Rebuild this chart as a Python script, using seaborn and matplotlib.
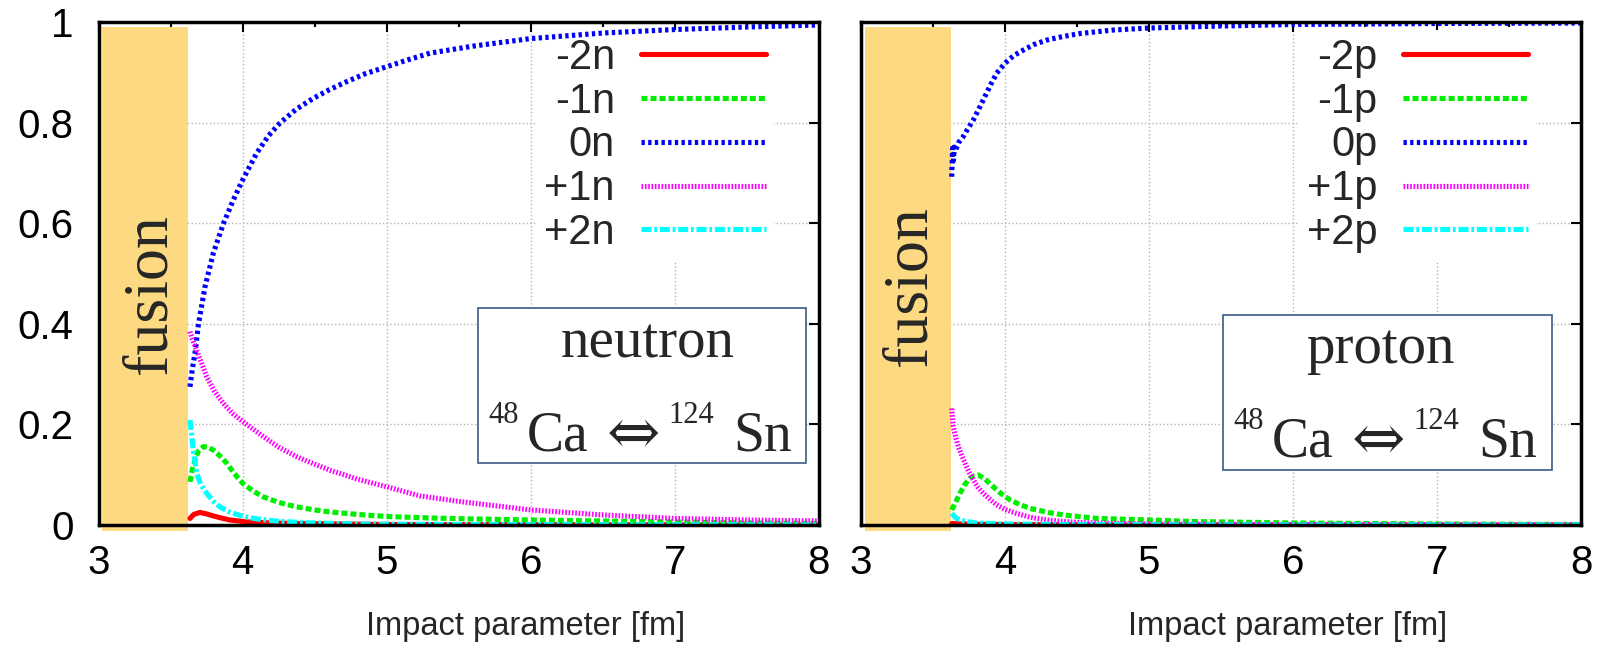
import matplotlib
matplotlib.use("Agg")
import matplotlib.pyplot as plt
from matplotlib.patches import Rectangle
from matplotlib.ticker import MultipleLocator
import seaborn as sns

# ---------------- neutron transfer probabilities (48Ca + 124Sn) ----------------
m2n_b = [3.634, 3.66, 3.703, 3.75, 3.796, 3.85, 3.91, 4.0, 4.05, 4.2, 4.4, 4.7, 5.0, 6.0, 7.0, 8.0]
m2n_v = [0.013, 0.021, 0.025, 0.022, 0.018, 0.014, 0.010, 0.007, 0.006, 0.004, 0.003, 0.002, 0.001, 0.0005, 0.0003, 0.0002]

m1n_b = [3.634, 3.65, 3.669, 3.69, 3.727, 3.76, 3.796, 3.84, 3.889, 3.94, 4.0, 4.07, 4.143, 4.25,
         4.375, 4.5, 4.606, 4.8, 5.0, 5.3, 5.6, 6.0, 6.5, 7.0, 7.5, 8.0]
m1n_v = [0.086, 0.110, 0.129, 0.146, 0.156, 0.155, 0.149, 0.138, 0.123, 0.103, 0.083, 0.068, 0.056, 0.045,
         0.036, 0.030, 0.026, 0.021, 0.017, 0.014, 0.012, 0.010, 0.008, 0.006, 0.004, 0.003]

z0n_b = [3.634, 3.65, 3.669, 3.692, 3.738, 3.796, 3.865, 3.935, 4.0, 4.097, 4.18, 4.259, 4.37, 4.49,
         4.6, 4.72, 4.85, 5.0, 5.15, 5.3, 5.6, 6.0, 6.5, 7.0, 7.5, 8.0]
z0n_v = [0.275, 0.31, 0.342, 0.398, 0.474, 0.541, 0.599, 0.647, 0.687, 0.740, 0.775, 0.800, 0.827, 0.849,
         0.866, 0.882, 0.898, 0.912, 0.926, 0.939, 0.953, 0.968, 0.979, 0.986, 0.991, 0.995]

p1n_b = [3.634, 3.65, 3.68, 3.75, 3.8, 3.865, 3.93, 4.0, 4.143, 4.25, 4.375, 4.5, 4.606, 4.8, 5.0,
         5.23, 5.5, 6.0, 6.5, 7.0, 7.5, 8.0]
p1n_v = [0.385, 0.37, 0.348, 0.295, 0.268, 0.242, 0.222, 0.206, 0.176, 0.155, 0.136, 0.121, 0.109, 0.091, 0.076,
         0.058, 0.047, 0.030, 0.020, 0.013, 0.010, 0.008]

p2n_b = [3.634, 3.645, 3.657, 3.68, 3.71, 3.75, 3.8, 3.842, 3.9, 4.0, 4.1, 4.26, 4.5, 4.8, 5.0, 6.0, 7.0, 8.0]
p2n_v = [0.209, 0.18, 0.149, 0.103, 0.08, 0.063, 0.046, 0.036, 0.027, 0.017, 0.012, 0.007, 0.004, 0.002,
         0.0015, 0.0008, 0.0005, 0.0003]

# ---------------- proton transfer probabilities ----------------
m2p_b = [3.63, 3.7, 3.8, 4.0, 4.5, 5.0, 6.0, 7.0, 8.0]
m2p_v = [0.003, 0.002, 0.0015, 0.001, 0.0005, 0.0003, 0.0002, 0.0001, 0.0001]

m1p_b = [3.63, 3.66, 3.687, 3.72, 3.757, 3.785, 3.815, 3.86, 3.919, 3.97, 4.035, 4.1, 4.174, 4.3,
         4.405, 4.64, 5.0, 5.3, 6.0, 7.0, 8.0]
m1p_v = [0.030, 0.047, 0.063, 0.080, 0.093, 0.098, 0.0995, 0.092, 0.076, 0.063, 0.050, 0.041, 0.033, 0.025,
         0.020, 0.013, 0.010, 0.007, 0.004, 0.002, 0.001]

z0p_b = [3.630, 3.636, 3.642, 3.648, 3.655, 3.68, 3.71, 3.745, 3.78, 3.815, 3.849, 3.9, 3.942, 4.0,
         4.06, 4.127, 4.2, 4.29, 4.4, 4.52, 4.75, 5.0, 5.5, 6.0, 7.0, 8.0]
z0p_v = [0.693, 0.750, 0.725, 0.752, 0.745, 0.762, 0.773, 0.790, 0.806, 0.826, 0.846, 0.876, 0.899, 0.919,
         0.934, 0.945, 0.956, 0.965, 0.972, 0.978, 0.985, 0.989, 0.993, 0.996, 0.998, 0.999]

p1p_b = [3.63, 3.641, 3.66, 3.676, 3.7, 3.722, 3.75, 3.78, 3.81, 3.849, 3.9, 3.942, 4.0, 4.08, 4.18,
         4.29, 4.4, 4.52, 4.75, 5.0, 6.0, 7.0, 8.0]
p1p_v = [0.232, 0.196, 0.172, 0.156, 0.138, 0.123, 0.105, 0.090, 0.076, 0.063, 0.050, 0.040, 0.031, 0.023, 0.015,
         0.010, 0.007, 0.005, 0.003, 0.002, 0.001, 0.0005, 0.0003]

p2p_b = [3.63, 3.65, 3.665, 3.7, 3.73, 3.8, 4.0, 4.5, 5.0, 6.0, 8.0]
p2p_v = [0.023, 0.017, 0.013, 0.009, 0.007, 0.004, 0.002, 0.001, 0.0005, 0.0002, 0.0001]

n_labels = ["-2n", "-1n", "0n", "+1n", "+2n"]
p_labels = ["-2p", "-1p", "0p", "+1p", "+2p"]

x_ticks = [3, 4, 5, 6, 7, 8]
y_ticks = [0, 0.2, 0.4, 0.6, 0.8, 1]
y_tick_labels = ["0", "0.2", "0.4", "0.6", "0.8", "1"]
x_label = "Impact parameter [fm]"
fusion_edge = 3.622

# ---------------- styling ----------------
sns.set_theme(style="white", rc={
    "lines.scale_dashes": False,
    "axes.edgecolor": "black",
    "axes.linewidth": 2.5,
    "xtick.color": "black",
    "ytick.color": "black",
})
plt.rcParams["font.family"] = ["Liberation Sans", "DejaVu Sans"]
SERIF = ["Liberation Serif", "DejaVu Serif"]

LW = 3.7
styles = [
    dict(color="#ff0000", linestyle="-"),
    dict(color="#00ee00", linestyle=(0, (4.3, 2.2))),
    dict(color="#0000ff", linestyle=(0, (2.4, 2.4))),
    dict(color="#ff00ff", linestyle=(0, (1.2, 1.2))),
    dict(color="#00ffff", linestyle=(0, (7.2, 2.0, 2.0, 2.0))),
]

fig = plt.figure(figsize=(16.09, 6.59), dpi=100)
ax_n = fig.add_axes([0.06134, 0.20334, 0.44748, 0.76252])
ax_p = fig.add_axes([0.53511, 0.20334, 0.44748, 0.76252])

panels = [
    (ax_n, [(m2n_b, m2n_v), (m1n_b, m1n_v), (z0n_b, z0n_v), (p1n_b, p1n_v), (p2n_b, p2n_v)], n_labels),
    (ax_p, [(m2p_b, m2p_v), (m1p_b, m1p_v), (z0p_b, z0p_v), (p1p_b, p1p_v), (p2p_b, p2p_v)], p_labels),
]

for ax, series, labels in panels:
    for (b, v), lab, st in zip(series, labels, styles):
        sns.lineplot(x=b, y=v, ax=ax, linewidth=LW, label=lab, estimator=None, **st)

    ax.set_xlim(3, 8)
    ax.set_ylim(0, 1)
    ax.set_xticks(x_ticks)
    ax.set_xticklabels([str(t) for t in x_ticks])
    ax.set_yticks(y_ticks)
    ax.xaxis.set_minor_locator(MultipleLocator(0.5))
    ax.tick_params(which="both", direction="in", top=True, right=True, width=1.5)
    ax.tick_params(which="major", length=7, labelsize=29)
    ax.tick_params(which="minor", length=3.5)
    ax.tick_params(axis="x", pad=14)
    ax.tick_params(axis="y", pad=18)
    ax.grid(True, which="major", color="#b4b4b4", linestyle=":", linewidth=1.0)
    ax.set_axisbelow(True)
    ax.set_xlabel(x_label, fontsize=23.5)
    ax.xaxis.set_label_coords(0.593, -0.172)

    # fusion region
    ax.axvspan(3.025, fusion_edge, ymin=-0.012, ymax=0.991, color="#fdd981",
               zorder=1.2, clip_on=False, lw=0)

    handles = ax.get_lines()[:5]
    leg = ax.legend(handles, labels, loc="upper right", bbox_to_anchor=(0.938, 0.986),
                    markerfirst=False, frameon=True, fancybox=False, edgecolor="none",
                    facecolor="white", framealpha=1, borderpad=0.2, borderaxespad=0,
                    handlelength=3.0, handletextpad=0.62, labelspacing=0.09,
                    fontsize=30)
    leg.set_zorder(1.5)

ax_n.set_yticklabels(y_tick_labels)
ax_p.set_yticklabels([])

# fusion captions
ax_n.text(3.467, 0.46, "fusion", rotation=90, rotation_mode="anchor", ha="center",
          va="baseline", fontsize=46, family=SERIF, zorder=3)
ax_p.text(3.449, 0.475, "fusion", rotation=90, rotation_mode="anchor", ha="center",
          va="baseline", fontsize=46, family=SERIF, zorder=3)

# reaction boxes
def reaction_box(ax, x0, y0, w, h, name, name_x, name_y, dx, dy):
    ax.add_patch(Rectangle((x0, y0), w, h, facecolor="white", edgecolor="#3c5a87",
                           lw=1.2, zorder=1.6))
    ax.text(name_x, name_y, name, ha="center", va="baseline", fontsize=41,
            family=SERIF, zorder=3)
    ax.text(5.705 + dx, 0.203 + dy, "48", ha="left", va="baseline", fontsize=22,
            family=SERIF, zorder=3)
    ax.text(5.974 + dx, 0.149 + dy, "Ca", ha="left", va="baseline", fontsize=40,
            family=SERIF, zorder=3)
    ax.text(6.53 + dx, 0.176 + dy, "\u21d4", ha="left", va="center", fontsize=46,
            family=["DejaVu Serif"], zorder=3)
    ax.text(6.954 + dx, 0.203 + dy, "124", ha="left", va="baseline", fontsize=22,
            family=SERIF, zorder=3)
    ax.text(7.405 + dx, 0.149 + dy, "Sn", ha="left", va="baseline", fontsize=40,
            family=SERIF, zorder=3)

reaction_box(ax_n, 5.634, 0.123, 2.279, 0.309, "neutron", 6.815, 0.334, 0.0, 0.0)
reaction_box(ax_p, 5.514, 0.109, 2.286, 0.309, "proton", 6.604, 0.322, -0.12, -0.012)

fig.savefig("out.png", dpi=100, facecolor="white")
